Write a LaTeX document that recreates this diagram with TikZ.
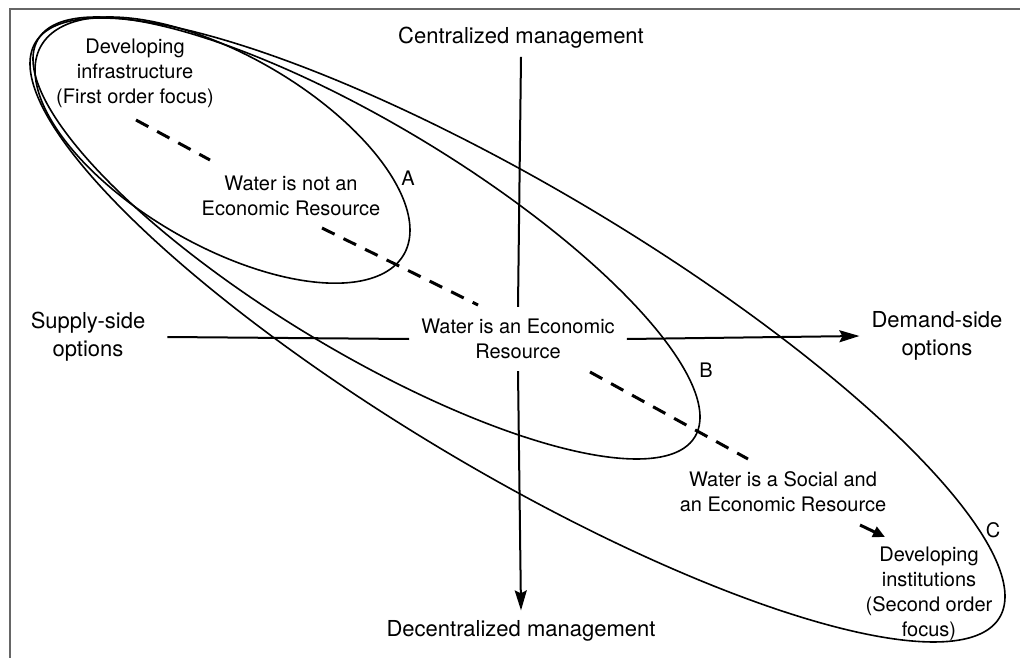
\documentclass[tikz,border=0pt]{standalone}
\usepackage{fontspec}
\setmainfont{TeX Gyre Heros}
\usetikzlibrary{arrows.meta}
\begin{document}
\begin{tikzpicture}[x=1pt,y=-1pt,
  body/.style={font=\fontsize{20}{25}\selectfont,align=center,inner sep=0pt},
  axlabel/.style={font=\fontsize{22}{28}\selectfont,align=center,inner sep=0pt},
  axis/.style={line width=2pt},
  oval/.style={line width=1.6pt},
  dashline/.style={line width=3pt,dash pattern=on 14pt off 10pt},
  tip/.style={-{Stealth[length=20pt,width=12pt,inset=3pt]}}]
\useasboundingbox (0,0) rectangle (1020,658);
\draw[line width=2pt,gray!80!black] (10,658) -- (10,9) -- (1020,9);
% dashed diagonal
\coordinate (d0) at (136,120);
\coordinate (d1) at (210,160);
\coordinate (d2) at (322,228);
\coordinate (d3) at (478,305);
\coordinate (d4) at (590,372);
\coordinate (d5) at (748,459);
\coordinate (d6) at (860,525);
\coordinate (d7) at (885,537);
\draw[dashline] (d0) -- (d1);
\draw[dashline] (d2) -- (d3);
\draw[dashline] (d4) -- (d5);
\draw[line width=3pt,-{Triangle[length=12pt,width=11pt]}] (d6) -- (d7);
% texts
\node[axlabel] (cent) at (521,38) {Centralized management};
\node[axlabel] (decent) at (521,631) {Decentralized management};
\node[axlabel] (supply) at (88,337) {Supply-side\\options};
\node[axlabel] (demand) at (937,336) {Demand-side\\options};
\node[body,inner sep=12pt] (mid) at (518,339) {Water is an Economic\\Resource};
\node[body] (infra) at (135,73) {Developing\\infrastructure\\(First order focus)};
\node[body] (notec) at (291,196) {Water is not an\\Economic Resource};
\node[body] (social) at (783,492) {Water is a Social and\\an Economic Resource};
\node[body] (inst) at (929,594) {Developing\\institutions\\(Second order\\focus)};
\node[body] (la) at (408,178) {A};
\node[body] (lb) at (706,370) {B};
\node[body] (lc) at (993,530) {C};
% axes
\draw[axis] ([yshift=-8pt]cent.south) -- (mid.north);
\draw[axis,tip] (mid.south) -- ([yshift=10pt]decent.north);
\draw[axis] ([xshift=22pt]supply.east) -- (mid.west);
\draw[axis,tip] (mid.east) -- ([xshift=-12pt]demand.west);
% ovals: x = cx + W cos t, y = cy + H cos(t - phi)
\draw[oval] plot[domain=0:358,samples=180,smooth cycle,variable=\t]
  ({222.5+187.5*cos(\t)},{150.1+133.1*cos(\t-53.05)});
\draw[oval] plot[domain=0:358,samples=180,smooth cycle,variable=\t]
  ({366.5+333.5*cos(\t)},{238+221*cos(\t-35.9)});
\draw[oval] plot[domain=0:358,samples=180,smooth cycle,variable=\t]
  ({517.5+487.5*cos(\t)},{330+312*cos(\t-31.4)});
\end{tikzpicture}
\end{document}
